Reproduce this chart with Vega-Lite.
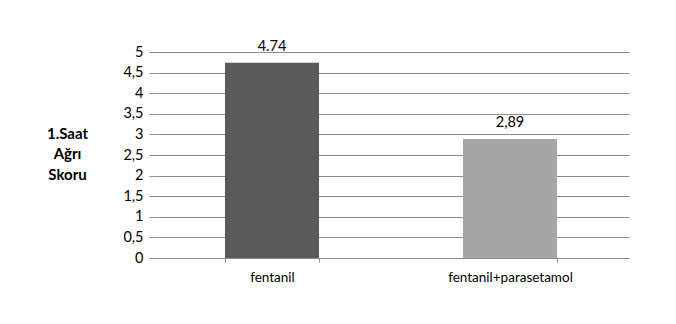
{
  "$schema": "https://vega.github.io/schema/vega-lite/v6.json",
  "width": 476,
  "height": 206,
  "autosize": "none",
  "padding": {"left": 153, "top": 52, "right": 47, "bottom": 66},
  "background": "white",
  "config": {
    "view": {"stroke": null},
    "font": "Lato",
    "axis": {"labelFont": "Lato", "titleFont": "Lato", "labelColor": "#000", "titleColor": "#000"}
  },
  "data": {
    "values": [
      {"grup": "fentanil", "skor": 4.74, "etiket": "4.74"},
      {"grup": "fentanil+parasetamol", "skor": 2.89, "etiket": "2,89"}
    ]
  },
  "encoding": {
    "x": {
      "field": "grup", "type": "nominal", "sort": null,
      "scale": {"paddingInner": 0.605, "paddingOuter": 0.3025},
      "axis": {
        "title": null, "labelAngle": 0, "labelFontSize": 13.5, "labelPadding": 8,
        "tickBand": "extent", "tickSize": 4, "tickColor": "#8c8c8c",
        "domainColor": "#8c8c8c", "domainWidth": 1
      }
    },
    "y": {
      "field": "skor", "type": "quantitative",
      "scale": {"domain": [0, 5], "nice": false},
      "axis": {
        "values": [0, 0.5, 1, 1.5, 2, 2.5, 3, 3.5, 4, 4.5, 5],
        "labelExpr": "replace(format(datum.value, '~g'), '.', ',')",
        "labelFontSize": 14.5, "labelPadding": 6,
        "domain": false, "tickSize": 4, "tickColor": "#8c8c8c",
        "gridColor": "#8c8c8c", "gridWidth": 1,
        "title": ["1.Saat", "Ağrı", "Skoru"],
        "titleAngle": 0, "titleFontSize": 15, "titleFontWeight": "bold",
        "titleAlign": "center", "titleBaseline": "middle",
        "titleX": -86, "titleY": 81, "titleLineHeight": 20.5
      }
    }
  },
  "layer": [
    {
      "mark": {"type": "bar"},
      "encoding": {
        "color": {
          "field": "grup", "type": "nominal", "legend": null,
          "scale": {"domain": ["fentanil", "fentanil+parasetamol"], "range": ["#595959", "#a6a6a6"]}
        }
      }
    },
    {
      "mark": {"type": "text", "baseline": "bottom", "dy": -9, "fontSize": 14.5, "color": "#000", "font": "Lato"},
      "encoding": {"text": {"field": "etiket"}}
    }
  ]
}
